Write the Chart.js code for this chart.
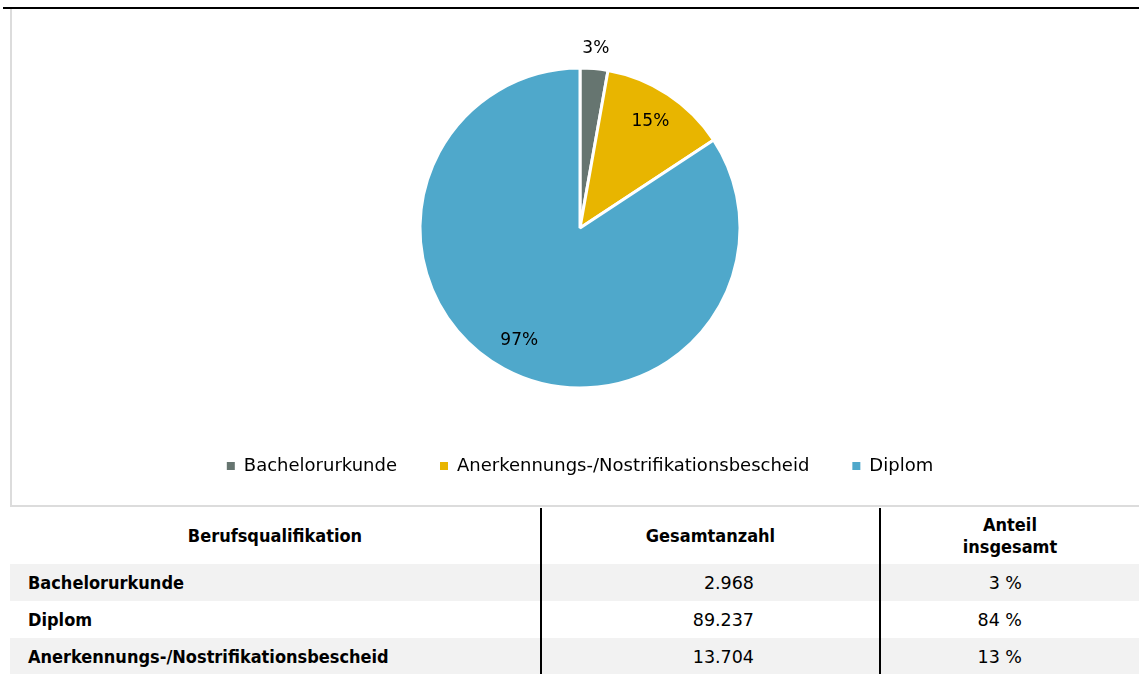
<!DOCTYPE html>
<html>
<head>
<meta charset="utf-8">
<script src="https://cdn.jsdelivr.net/npm/chart.js@4.4.0/dist/chart.umd.min.js"></script>
<style>
  html, body { margin: 0; padding: 0; background: #fff; }
  body { width: 1139px; height: 674px; overflow: hidden; position: relative; font-family: "DejaVu Sans Condensed", "DejaVu Sans", sans-serif; }
  #topline { position: absolute; left: 3px; top: 7px; width: 1136px; height: 2px; background: #000; }
  #box { position: absolute; left: 10px; top: 9px; width: 1140px; height: 496px; border-left: 2px solid #dcdcdc; border-bottom: 2px solid #dcdcdc; }
  #box canvas { display: block; }
  table { position: absolute; left: 10px; top: 508px; width: 1129px; border-collapse: collapse; table-layout: fixed; font-size: 18px; color: #000; }
  th { font-weight: bold; height: 56px; padding: 0; text-align: center; line-height: 22px; }
  td { height: 37px; padding: 0; }
  tr.g td { background: #f2f2f2; }
  td.c1 { font-weight: bold; padding-left: 18px; }
  td.c2 { text-align: right; padding-right: 125px; font-family: "DejaVu Sans", sans-serif; font-size: 17.5px; }
  td.c3 { text-align: right; padding-right: 117px; font-family: "DejaVu Sans", sans-serif; font-size: 17.5px; }
  .bl { border-left: 2px solid #000; }
</style>
</head>
<body>
<div id="topline"></div>
<div id="box"><canvas id="c" width="1136" height="496"></canvas></div>
<table id="t">
  <colgroup><col style="width:531px"><col style="width:339px"><col style="width:259px"></colgroup>
  <thead><tr id="hdr"></tr></thead>
  <tbody id="tb"></tbody>
</table>
<script>
// ---- data ----
const categories = ["Bachelorurkunde", "Anerkennungs-/Nostrifikationsbescheid", "Diplom"];
const values = [2968, 13704, 89237];
const sliceLabels = ["3%", "15%", "97%"];
const colors = ["#667570", "#e8b500", "#4fa8cb"];

const tableHeaders = ["Berufsqualifikation", "Gesamtanzahl", "Anteil<br>insgesamt"];
const tableRows = ["Bachelorurkunde", "Diplom", "Anerkennungs-/Nostrifikationsbescheid"];
const tableTotals = ["2.968", "89.237", "13.704"];
const tableShares = ["3 %", "84 %", "13 %"];

// ---- table ----
const hdr = document.getElementById('hdr');
tableHeaders.forEach((h, i) => {
  const th = document.createElement('th');
  th.innerHTML = h;
  if (i > 0) th.className = 'bl';
  hdr.appendChild(th);
});
const tb = document.getElementById('tb');
tableRows.forEach((r, i) => {
  const tr = document.createElement('tr');
  if (i % 2 === 0) tr.className = 'g';
  tr.innerHTML = '<td class="c1">' + r + '</td><td class="c2 bl">' + tableTotals[i] + '</td><td class="c3 bl">' + tableShares[i] + '</td>';
  tb.appendChild(tr);
});

// ---- chart ----
const labelRadiusFactor = [1.125, 0.8, 0.8];
const sliceLabelPlugin = {
  id: 'sliceLabels',
  afterDatasetsDraw(chart) {
    const ctx = chart.ctx;
    const meta = chart.getDatasetMeta(0);
    ctx.save();
    ctx.font = '17px "DejaVu Sans", sans-serif';
    ctx.fillStyle = '#000';
    ctx.textAlign = 'center';
    ctx.textBaseline = 'middle';
    meta.data.forEach((arc, i) => {
      const p = arc.getProps(['x', 'y', 'startAngle', 'endAngle', 'outerRadius'], true);
      const mid = (p.startAngle + p.endAngle) / 2;
      const r = p.outerRadius * labelRadiusFactor[i];
      ctx.fillText(sliceLabels[i], p.x + Math.cos(mid) * r, p.y + Math.sin(mid) * r);
    });
    ctx.restore();
  }
};

new Chart(document.getElementById('c'), {
  type: 'pie',
  data: {
    labels: categories,
    datasets: [{
      data: values,
      backgroundColor: colors,
      borderColor: '#ffffff',
      borderWidth: 3,
      radius: 160
    }]
  },
  options: {
    responsive: false,
    animation: false,
    layout: { padding: { top: 33, bottom: 20, left: 0, right: 0 } },
    plugins: {
      tooltip: { enabled: false },
      legend: {
        position: 'bottom',
        labels: {
          boxWidth: 8,
          boxHeight: 8,
          padding: 43,
          color: '#000',
          font: { family: '"DejaVu Sans", sans-serif', size: 18 },
          generateLabels(chart) {
            const items = Chart.overrides.pie.plugins.legend.labels.generateLabels(chart);
            return items.map(it => Object.assign(it, { lineWidth: 0, strokeStyle: it.fillStyle }));
          }
        }
      }
    }
  },
  plugins: [sliceLabelPlugin]
});
</script>
</body>
</html>
